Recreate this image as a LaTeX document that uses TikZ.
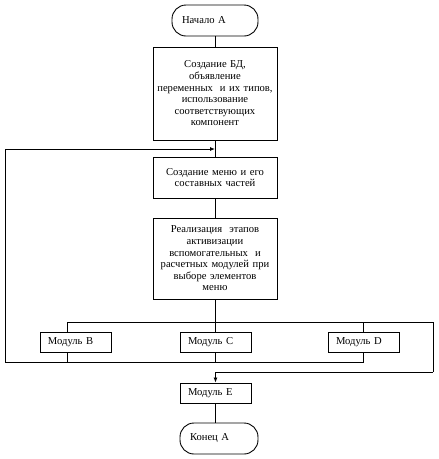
\documentclass[tikz,border=0pt]{standalone}
\usepackage{fontspec}
\setmainfont{Liberation Serif}
\usetikzlibrary{arrows.meta}
\tikzset{
  base/.style={draw, line width=0.9pt, font=\fontsize{10.6}{11.6}\selectfont, inner sep=0pt},
  term/.style={base, rounded corners=14pt, minimum height=31pt, align=left},
  proc/.style={base, minimum width=124pt, text width=118pt, align=center},
  modbox/.style={base, minimum height=20pt, text width=55pt, inner xsep=8pt, align=left},
  link/.style={line width=0.8pt},
  arr/.style={link, -{Latex[length=5pt,width=4pt]}}
}
\begin{document}
\begin{tikzpicture}[x=1pt, y=-1pt]
  \useasboundingbox (0,0) rectangle (439,459);

  % terminals and process boxes
  \node[term, minimum width=86pt, text width=66pt, inner xsep=10pt] (nach) at (215,20.5) {Начало А};
  \node[proc, minimum height=93pt] (bd) at (215,93.5) {Создание БД,\\ объявление\\ переменных~ и их типов,\\ использование\\ соответствующих\\ компонент};
  \node[proc, minimum height=41pt] (menu) at (215,177.5) {Создание меню и его\\ составных частей};
  \node[proc, minimum height=81pt] (real) at (215,258.5) {Реализация~ этапов\\ активизации\\ вспомогательных~ и\\ расчетных модулей при\\ выборе элементов\\ меню};

  % modules
  \node[modbox] (modB) at (75.5,342) {Модуль В};
  \node[modbox] (modC) at (215.5,342) {Модуль С};
  \node[modbox] (modD) at (363.5,342) {Модуль D};
  \node[modbox] (modE) at (215.5,393) {Модуль Е};
  \node[term, minimum width=78pt, text width=58pt, inner xsep=10pt] (kon) at (219,438.5) {Конец А};

  % bus coordinates
  \coordinate (busL) at (67,322);
  \coordinate (busR) at (433,322);
  \coordinate (busR2) at (433,372);
  \coordinate (loopBL) at (5,362);
  \coordinate (loopTop) at (215,149);

  % main flow
  \draw[link] (nach) -- (bd);
  \draw[link] (bd) -- (menu);
  \draw[link] (menu) -- (real);
  \draw[link] (real) -- (real |- busL);

  % branch to the modules and on to E
  \draw[link] (busL |- modB.north) -- (busL) -- (busR) -- (busR2);
  \draw[arr] (busR2) -| (modE.north);
  \draw[link] (modC.north -| real) -- (real |- busL);
  \draw[link] (modD.north) -- (modD.north |- busL);

  % return to the menu
  \draw[arr] (modD.south) |- (loopBL) |- (loopTop);
  \draw[link] (busL |- modB.south) -- (busL |- loopBL);
  \draw[link] (modC.south -| real) -- (real |- loopBL);

  \draw[link] (modE) -- (modE |- kon.north);
\end{tikzpicture}
\end{document}
